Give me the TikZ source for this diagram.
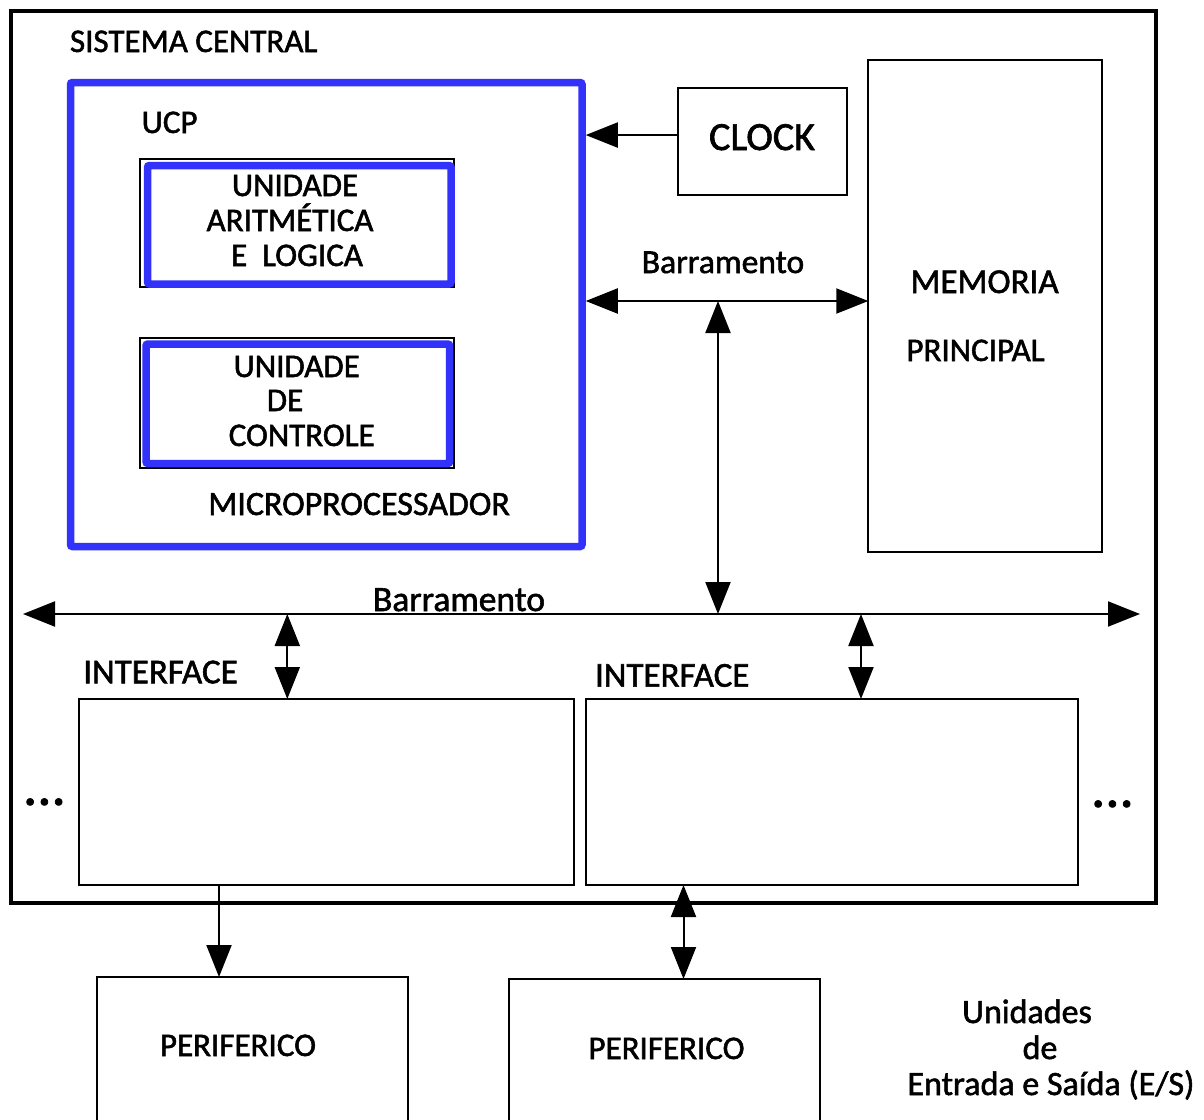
\documentclass[tikz,border=0pt]{standalone}
\usepackage{fontspec}
\setmainfont{Carlito}[FakeBold=1.6]
\usetikzlibrary{arrows.meta}
\definecolor{ucpblue}{RGB}{50,50,250}
\begin{document}
\begin{tikzpicture}[x=1pt,y=-1pt,
  box/.style={draw=black, line width=2pt, inner sep=0pt, outer sep=0pt},
  thickbox/.style={draw=black, line width=4pt, inner sep=0pt, outer sep=0pt},
  bluebox/.style={draw=ucpblue, line width=7.5pt, rounded corners=2pt, inner sep=0pt, outer sep=3.75pt},
  txt/.style={inner sep=0pt, outer sep=0pt, anchor=base, font=\fontsize{33}{40}\selectfont},
  txtl/.style={txt, anchor=base west},
  bigtri/.tip={Triangle[length=32pt,width=25pt]},
  conn/.style={line width=2pt, -bigtri},
  dconn/.style={line width=2pt, bigtri-bigtri},
]
\useasboundingbox (0,0) rectangle (1204,1119);
\fill[white] (0,0) rectangle (1204,1119);

% outer system box
\node[thickbox, minimum width=1145pt, minimum height=892pt] (sys) at (583.5,457) {};
\node[txtl] (systxt) at (70,52) {SISTEMA CENTRAL};

% UCP
\node[bluebox, minimum width=511.5pt, minimum height=464pt] (ucp) at (326.25,314.5) {};
\node[txtl] (ucptxt) at (141.7,133) {UCP};

% ALU
\node[box, minimum width=314pt, minimum height=128.5pt] (alu) at (296.5,222.75) {};
\node[bluebox, minimum width=303.5pt, minimum height=118.5pt] (alub) at (299.25,224.75) {};
\node[txt] (alu1) at (295,196) {UNIDADE};
\node[txt] (alu2) at (290,231) {ARITMÉTICA};
\node[txt] (alu3) at (297,266) {E\ \ LOGICA};

% Control unit
\node[box, minimum width=314pt, minimum height=130.5pt] (cu) at (296.5,402.75) {};
\node[bluebox, minimum width=303.7pt, minimum height=119.5pt] (cub) at (297.85,403.75) {};
\node[txt] (cu1) at (296.7,377) {UNIDADE};
\node[txt] (cu2) at (285,411) {DE};
\node[txt] (cu3) at (301.7,446) {CONTROLE};

\node[txtl, font=\fontsize{34}{40}\selectfont] (micro) at (208.3,515) {MICROPROCESSADOR};

% Clock
\node[box, minimum width=169.3pt, minimum height=106.7pt] (clock) at (762.35,141.65) {};
\node[txt, font=\fontsize{40}{46}\selectfont] (clocktxt) at (762,150) {CLOCK};

% Memory
\node[box, minimum width=234pt, minimum height=491.7pt] (mem) at (985.3,305.85) {};
\node[txt, font=\fontsize{35}{42}\selectfont] (mem1) at (984.6,293) {MEMORIA};
\node[txt] (mem2) at (975.5,361) {PRINCIPAL};

% Interfaces
\node[box, minimum width=494.7pt, minimum height=186pt] (if1) at (326.65,792) {};
\node[box, minimum width=492.3pt, minimum height=186pt] (if2) at (832.15,792) {};
\node[txtl, font=\fontsize{35}{40}\selectfont] (if1txt) at (83.3,683.3) {INTERFACE};
\node[txtl, font=\fontsize{35}{40}\selectfont] (if2txt) at (595,686.7) {INTERFACE};
\node[txtl, font=\bfseries\fontsize{46}{50}\selectfont] (dotsl) at (24,805) {.\hspace{2pt}.\hspace{2pt}.};
\node[txtl, font=\bfseries\fontsize{46}{50}\selectfont] (dotsr) at (1092,807) {.\hspace{2pt}.\hspace{2pt}.};

% Peripherals
\node[box, minimum width=311pt, minimum height=153pt] (per1) at (252.5,1053.5) {};
\node[box, minimum width=311pt, minimum height=151pt] (per2) at (664.5,1054.5) {};
\node[txt] (per1txt) at (238,1056) {PERIFERICO};
\node[txt] (per2txt) at (666.5,1059) {PERIFERICO};

\node[txt, font=\fontsize{34}{40}\selectfont] (es1) at (1027,1023) {Unidades};
\node[txt, font=\fontsize{34}{40}\selectfont] (es2) at (1040,1059) {de};
\node[txt, font=\fontsize{34}{40}\selectfont] (es3) at (1051,1095) {Entrada e Saída (E/S)};

% Buses
\coordinate (busA) at (718,301);
\coordinate (busL) at (23,614);
\coordinate (busR) at (1140,614);
\coordinate (j1) at (287.3,614);
\coordinate (j2) at (861,614);
\coordinate (p1x) at (219,930);
\coordinate (p2x) at (683.5,930);

\node[txt, font=\fontsize{33.5}{40}\selectfont] (bus1txt) at (723,273) {Barramento};
\node[txt, font=\fontsize{35.5}{40}\selectfont] (bus2txt) at (459,611) {Barramento};

\draw[conn] ([yshift=6.6pt]clock.west) -- ([yshift=6.6pt]clock.west -| ucp.east);
\draw[dconn] (busA -| ucp.east) -- (busA -| mem.west);
\draw[dconn] (busA) -- (busA |- busL);
\draw[dconn] (busL) -- (busR);
\draw[dconn] (j1) -- (j1 |- if1.north);
\draw[dconn] (j2) -- (j2 |- if2.north);
\draw[conn] (if1.south -| p1x) -- (per1.north -| p1x);
\draw[dconn] (if2.south -| p2x) -- (per2.north -| p2x);
\end{tikzpicture}
\end{document}
